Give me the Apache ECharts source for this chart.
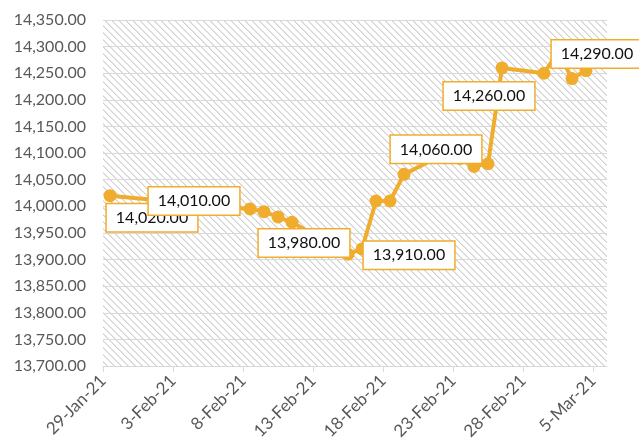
<!DOCTYPE html>
<html><head><meta charset="utf-8">
<script src="https://cdn.jsdelivr.net/npm/echarts@6/dist/echarts.min.js"></script>
<style>html,body{margin:0;padding:0;background:#fff}#c{width:639px;height:445px}</style>
</head><body><div id="c"></div>
<script>
// ---- data ----
const dates = ['2021-01-29','2021-02-02','2021-02-03','2021-02-04','2021-02-05',
  '2021-02-08','2021-02-09','2021-02-10','2021-02-11',
  '2021-02-15','2021-02-16','2021-02-17','2021-02-18','2021-02-19',
  '2021-02-22','2021-02-23','2021-02-24','2021-02-25','2021-02-26',
  '2021-03-01','2021-03-02','2021-03-03','2021-03-04','2021-03-05'];
const values = [14020,14010,14005,14010,14000,
  13995,13990,13980,13970,
  13910,13920,14010,14010,14060,
  14100,14090,14075,14080,14260,
  14250,14290,14240,14255,14290];
const labeledDates = ['2021-01-29','2021-02-04','2021-02-10','2021-02-15','2021-02-19','2021-02-26','2021-03-05'];
const xTickDays = [0,5,10,15,20,25,30,35];
const yMin = 13700, yMax = 14350, yStep = 50;

// ---- layout (label centre offsets from point, px) ----
const labelOffsets = {
  '2021-01-29':[42,22], '2021-02-04':[0,0], '2021-02-10':[26,26], '2021-02-15':[61,1],
  '2021-02-19':[32,-25], '2021-02-26':[-13,28], '2021-03-05':[-3,2]
};

const DAY = 86400000;
const base = Date.UTC(2021,0,29);
const months = ['Jan','Feb','Mar','Apr','May','Jun','Jul','Aug','Sep','Oct','Nov','Dec'];
function dayOf(s){ const p=s.split('-'); return (Date.UTC(+p[0],+p[1]-1,+p[2])-base)/DAY; }
function fmtDay(v){ const d=new Date(base+Math.round(v)*DAY); return d.getUTCDate()+'-'+months[d.getUTCMonth()]+'-'+String(d.getUTCFullYear()).slice(2); }
function fmtNum(v){ return v.toLocaleString('en-US',{minimumFractionDigits:2,maximumFractionDigits:2}); }

const GOLD = '#F0AD2D';
// hatch pattern
const P = 7;
const pc = document.createElement('canvas'); pc.width=P; pc.height=P;
const g = pc.getContext('2d'); g.fillStyle='#fff'; g.fillRect(0,0,P,P);
for(let y=0;y<P;y++){ for(let x=0;x<P;x++){ const k=((x-y)%P+P)%P;
  if(k===0){ g.fillStyle='#d2d2d2'; g.fillRect(x,y,1,1);} else if(k===1){ g.fillStyle='#e6e6e6'; g.fillRect(x,y,1,1);} } }

const seriesData = dates.map((d,i)=>{
  const item = {value:[dayOf(d)+0.5, values[i]]};
  if(labeledDates.includes(d)) item.label = {show:true};
  return item;
});

const chart = echarts.init(document.getElementById('c'),null,{renderer:'canvas'});
chart.setOption({
  animation:false,
  grid:{left:103, right:32, top:20, bottom:79, show:true, borderWidth:0,
        backgroundColor:{image:pc, repeat:'repeat'}},
  xAxis:{type:'value', min:0, max:36,
    axisLine:{show:true, lineStyle:{color:'#d9d9d9', width:1}},
    axisTick:{show:true, customValues:xTickDays, length:6, lineStyle:{color:'#d9d9d9'}},
    axisLabel:{customValues:xTickDays, rotate:45, margin:12, color:'#595959',
      fontFamily:'Lato', fontSize:17, formatter:fmtDay},
    splitLine:{show:false}},
  yAxis:{type:'value', min:yMin, max:yMax, interval:yStep,
    axisLine:{show:false}, axisTick:{show:false},
    axisLabel:{color:'#595959', fontFamily:'Lato', fontSize:16, margin:17, formatter:fmtNum},
    splitLine:{show:true, lineStyle:{color:'#d9d9d9', width:1}}},
  series:[{type:'line', data:seriesData, symbol:'circle', symbolSize:13, showAllSymbol:true,
    lineStyle:{color:GOLD, width:4}, itemStyle:{color:GOLD},
    label:{show:false, position:'inside', formatter:p=>fmtNum(p.value[1]), color:'#111', fontFamily:'Lato', fontSize:16,
      lineHeight:19, backgroundColor:'#fff', borderColor:GOLD, borderWidth:1.5, padding:[4,9]},
    labelLayout:function(p){
      const o = labelOffsets[dates[p.dataIndex]] || [0,0];
      return {x:p.rect.x + p.rect.width/2 + o[0], y:p.rect.y + p.rect.height/2 + o[1], align:'center', verticalAlign:'middle', hideOverlap:false};
    }
  }]
});
</script></body></html>
